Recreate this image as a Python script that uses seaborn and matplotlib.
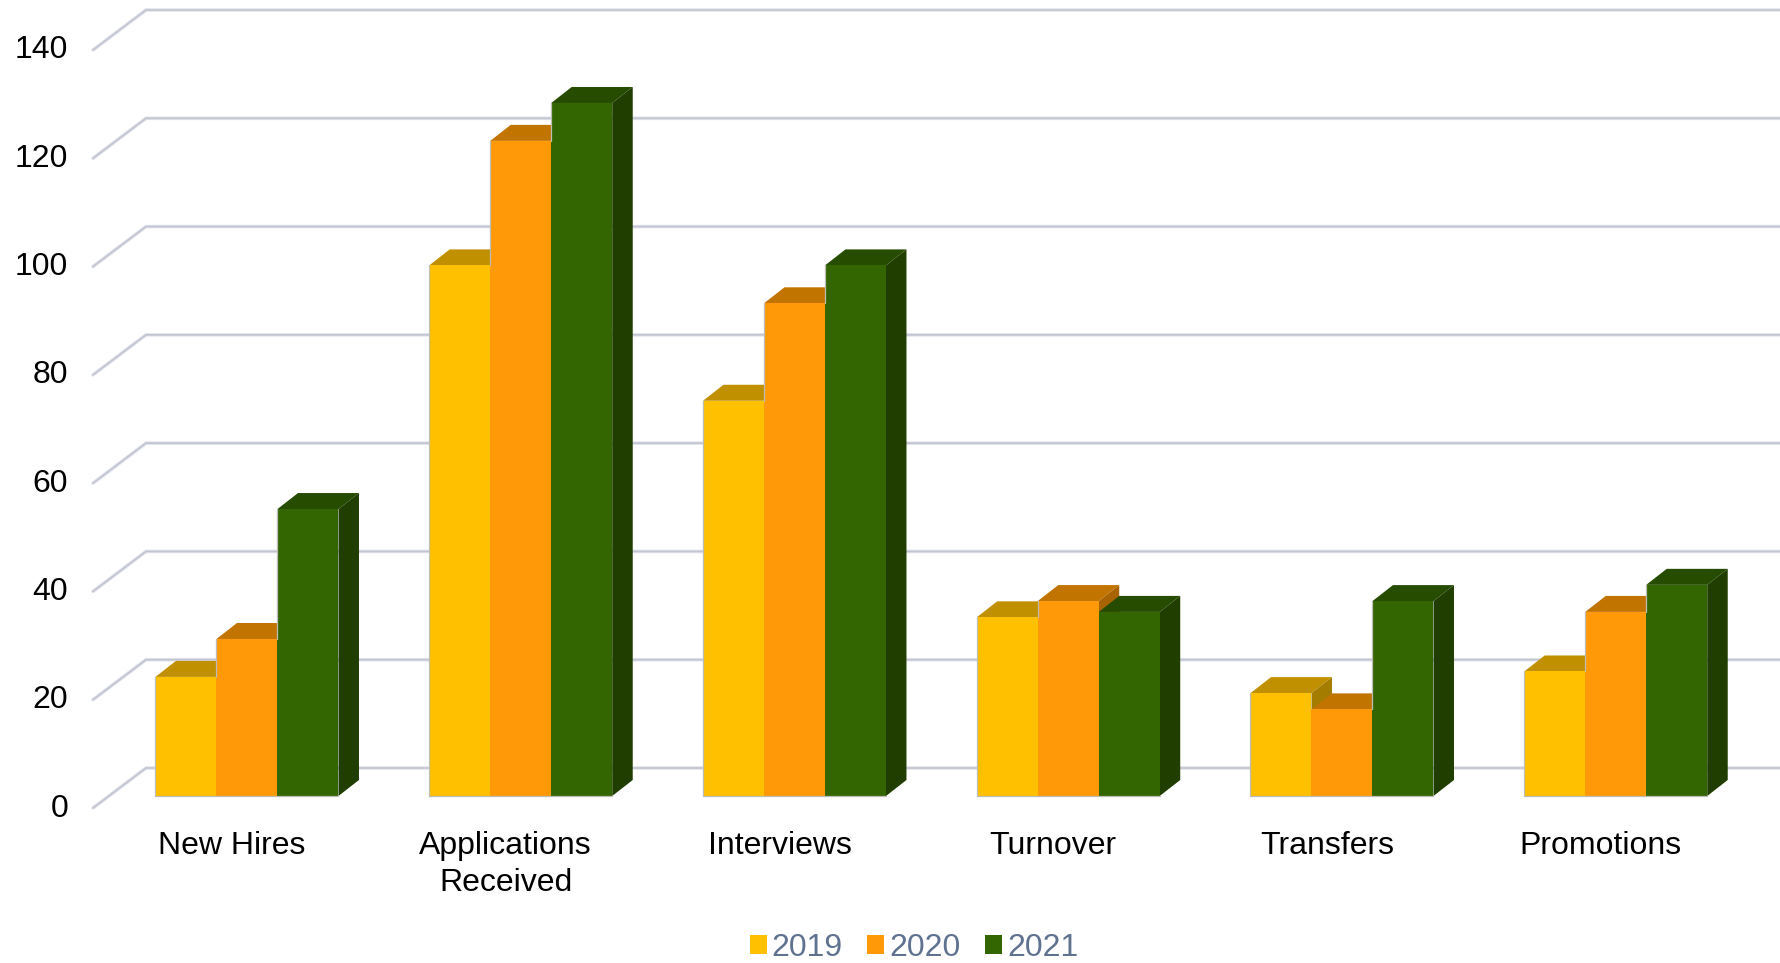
import matplotlib
matplotlib.use("Agg")
import matplotlib.pyplot as plt
import matplotlib.transforms as mtrans
from matplotlib.patches import Polygon
import pandas as pd
import seaborn as sns

categories = ["New Hires", "Applications\nReceived", "Interviews", "Turnover", "Transfers", "Promotions"]
values_2019 = [22, 98, 73, 33, 19, 23]
values_2020 = [29, 121, 91, 36, 16, 34]
values_2021 = [53, 128, 98, 34, 36, 39]
y_ticks = [0, 20, 40, 60, 80, 100, 120, 140]

front_colors = {"2019": "#FFC000", "2020": "#FF9908", "2021": "#336600"}
top_colors = ["#C09000", "#C27400", "#264C00"]
side_colors = ["#A37C00", "#A86400", "#1F3E00"]

W, H = 1781, 963
# pixel layout of the plot box, from the reference
BOX_LEFT, BOX_RIGHT, BOX_BOTTOM, BOX_TOP = 110.1, 1752.6, 796, 38
PX_X = (BOX_RIGHT - BOX_LEFT) / 6
PX_Y = (BOX_BOTTOM - BOX_TOP) / 140
DEPTH_X, DEPTH_Y = 20.5 / PX_X, 16 / PX_Y


def x_at(px):
    return (px - BOX_LEFT) / PX_X - 0.5


df = pd.DataFrame({
    "category": categories * 3,
    "year": ["2019"] * 6 + ["2020"] * 6 + ["2021"] * 6,
    "value": values_2019 + values_2020 + values_2021,
})

sns.set_theme(style="white")
plt.rcParams["font.family"] = ["Liberation Sans", "DejaVu Sans"]

fig = plt.figure(figsize=(W / 100, H / 100), dpi=100)
ax = fig.add_axes([BOX_LEFT / W, (H - BOX_BOTTOM) / H, (BOX_RIGHT - BOX_LEFT) / W, (BOX_BOTTOM - BOX_TOP) / H])

sns.barplot(data=df, x="category", y="value", hue="year", order=categories, palette=front_colors,
            saturation=1, width=183 / PX_X, gap=0, errorbar=None, linewidth=0, ax=ax)
ax.set_xlim(-0.5, 5.5)
ax.set_ylim(0, 140)
ax.set_xlabel("")
ax.set_ylabel("")
sns.despine(ax=ax, left=True, bottom=True)

# back wall lines and the slanted bit running to the front
back_y = 28 / PX_Y
front_y = -12 / PX_Y
for v in y_ticks:
    xs = [x_at(93), x_at(146), x_at(W)]
    ys = [v + front_y, v + back_y, v + back_y]
    ax.plot(xs, ys, color="#E2E4EC", lw=2.6, clip_on=False, zorder=1, solid_joinstyle="miter")
    ax.plot(xs, ys, color="#C2C5D1", lw=1.2, clip_on=False, zorder=1.1, solid_joinstyle="miter")

# extrude each bar: top and right side
for i, container in enumerate(ax.containers):
    for j, patch in enumerate(container):
        x0 = patch.get_x()
        x1 = x0 + patch.get_width()
        h = patch.get_height()
        z = 3 + i
        patch.set_zorder(z + 0.2)
        top = [(x0, h), (x1, h), (x1 + DEPTH_X, h + DEPTH_Y), (x0 + DEPTH_X, h + DEPTH_Y)]
        side = [(x1, 0), (x1 + DEPTH_X, DEPTH_Y), (x1 + DEPTH_X, h + DEPTH_Y), (x1, h)]
        ax.add_patch(Polygon(top, closed=True, fc=top_colors[i], ec="none", clip_on=False, zorder=z))
        ax.add_patch(Polygon(side, closed=True, fc=side_colors[i], ec="none", clip_on=False, zorder=z + 0.1))
        # grey outline only where the bar's left edge is not against its neighbour
        prev = ax.containers[i - 1][j].get_height() if i > 0 else 0
        if h > prev:
            ax.plot([x0, x0], [prev, h], color="#BDBDB5", lw=0.9, clip_on=False, zorder=z + 0.3)
        ax.plot([x0, x1], [0, 0], color="#BDBDB5", lw=0.9, clip_on=False, zorder=z + 0.3)

ax.set_yticks(y_ticks)
ax.tick_params(axis="both", length=0, labelsize=23, labelcolor="black")
ax.tick_params(axis="y", pad=0)
ax.tick_params(axis="x", pad=25)
ax.set_xticks(range(6))
ax.set_xticklabels(categories, linespacing=1.3)

shift_x = mtrans.ScaledTranslation(-15 / 100, 0, fig.dpi_scale_trans)
for lab in ax.get_xticklabels():
    lab.set_transform(lab.get_transform() + shift_x)
shift_y = mtrans.ScaledTranslation(-42 / 100, -9 / 100, fig.dpi_scale_trans)
for lab in ax.get_yticklabels():
    lab.set_transform(lab.get_transform() + shift_y)

sns.move_legend(ax, "center", bbox_to_anchor=(914 / W, (H - 948) / H), bbox_transform=fig.transFigure,
                ncol=3, title=None, frameon=False, fontsize=23, labelcolor="#5F7290",
                handlelength=0.53, handleheight=0.53, handletextpad=0.15, columnspacing=0.78, borderpad=0)

fig.savefig("out.png", dpi=100, facecolor="white")
